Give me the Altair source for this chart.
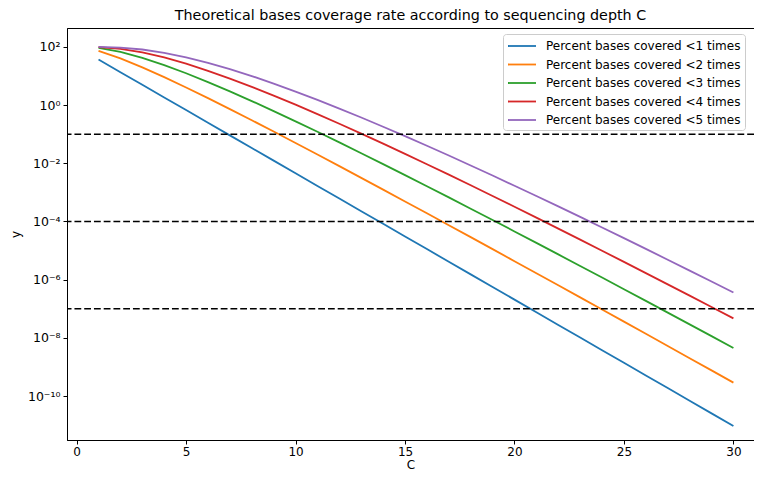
import altair as alt
import pandas as pd

C = list(range(1, 31))
names = ["Percent bases covered <1 times", "Percent bases covered <2 times",
         "Percent bases covered <3 times", "Percent bases covered <4 times",
         "Percent bases covered <5 times"]
colors = ["#1f77b4", "#ff7f0e", "#2ca02c", "#d62728", "#9467bd"]

p1 = [36.788, 13.534, 4.9787, 1.8316, 0.67379, 0.24788, 0.091188, 0.033546, 0.012341, 0.0045400,
      0.0016702, 6.1442e-4, 2.2603e-4, 8.3153e-5, 3.0590e-5, 1.1254e-5, 4.1399e-6, 1.5230e-6, 5.6028e-7, 2.0612e-7,
      7.5826e-8, 2.7895e-8, 1.0262e-8, 3.7751e-9, 1.3888e-9, 5.1091e-10, 1.8795e-10, 6.9144e-11, 2.5437e-11, 9.3576e-12]
p2 = [73.576, 40.601, 19.915, 9.1578, 4.0428, 1.7351, 0.72951, 0.30192, 0.12341, 0.049940,
      0.020042, 7.9875e-3, 3.1645e-3, 1.2473e-3, 4.8944e-4, 1.9131e-4, 7.4519e-5, 2.8937e-5, 1.1206e-5, 4.3284e-6,
      1.6682e-6, 6.4158e-7, 2.4629e-7, 9.4378e-8, 3.6109e-8, 1.3795e-8, 5.2627e-9, 2.0052e-9, 7.6310e-10, 2.9009e-10]
p3 = [91.970, 67.668, 42.319, 23.810, 12.465, 6.1969, 2.9636, 1.3754, 0.62322, 0.27694,
      0.12109, 0.052226, 0.022264, 9.3963e-3, 3.9308e-3, 1.6318e-3, 6.7274e-4, 2.7566e-4, 1.1234e-4, 4.5551e-5,
      1.8388e-5, 7.3921e-6, 2.9606e-6, 1.1816e-6, 4.7011e-7, 1.8648e-7, 7.3772e-8, 2.9110e-8, 1.1459e-8, 4.5010e-9]
p4 = [98.101, 85.712, 64.723, 43.347, 26.503, 15.120, 8.1765, 4.2380, 2.1226, 1.0336,
      0.49159, 0.22918, 0.10503, 0.047425, 0.021138, 9.3141e-3, 4.0627e-3, 1.7560e-3, 7.5283e-4, 3.2037e-4,
      1.3542e-4, 5.6896e-5, 2.3770e-5, 9.8795e-6, 4.0868e-6, 1.6831e-6, 6.9035e-7, 2.8209e-7, 1.1486e-7, 4.6610e-8]
p5 = [99.634, 94.735, 81.526, 62.884, 44.049, 28.506, 17.299, 9.9632, 5.4964, 2.9253,
      1.5105, 0.76004, 0.37402, 0.18053, 0.085664, 0.040044, 0.018470, 8.4176e-3, 3.7952e-3, 1.6945e-3,
      7.4987e-4, 3.2917e-4, 1.4342e-4, 6.2067e-5, 2.6691e-5, 1.1411e-5, 4.8523e-6, 2.0529e-6, 8.6448e-7, 3.6243e-7]
thresholds = [0.1, 1e-4, 1e-7]
y_ticks = [1e2, 1e0, 1e-2, 1e-4, 1e-6, 1e-8, 1e-10]
x_ticks = [0, 5, 10, 15, 20, 25, 30]

rows = []
for name, vals in zip(names, [p1, p2, p3, p4, p5]):
    for c, v in zip(C, vals):
        rows.append({"C": c, "y": v, "series": name})
df = pd.DataFrame(rows)
thr = pd.DataFrame({"t": thresholds})

FONT = "DejaVu Sans"
xscale = alt.Scale(domain=[-0.44, 30.94], nice=False, zero=False)
yscale = alt.Scale(type="log", domain=[10 ** -11.51, 10 ** 2.65], nice=False)

E = "round(log(datum.value)/LN10)"
label_expr = (f"{E}==2?'10²':{E}==0?'10⁰':{E}==-2?'10⁻²':{E}==-4?'10⁻⁴':"
              f"{E}==-6?'10⁻⁶':{E}==-8?'10⁻⁸':{E}==-10?'10⁻¹⁰':''")

lines = alt.Chart(df).mark_line(strokeWidth=1.8, clip=True).encode(
    x=alt.X("C:Q", scale=xscale, title="C",
            axis=alt.Axis(values=x_ticks, grid=False, tickColor="black", domainColor="black",
                          labelColor="black", titleColor="black", tickSize=4, domainWidth=1,
                          labelFont=FONT, labelFontSize=12, titleFont=FONT, titleFontSize=12,
                          titleFontWeight="normal", labelPadding=2, titlePadding=2)),
    y=alt.Y("y:Q", scale=yscale, title="y",
            axis=alt.Axis(values=y_ticks, labelExpr=label_expr, grid=False, tickColor="black",
                          domainColor="black", labelColor="black", titleColor="black", tickSize=4,
                          domainWidth=1, labelFont=FONT, labelFontSize=12.5, titleFont=FONT,
                          titleFontSize=12, titleFontWeight="normal", labelPadding=3, titlePadding=5)),
    color=alt.Color("series:N", scale=alt.Scale(domain=names, range=colors),
                    legend=alt.Legend(title=None, orient="none", legendX=436, legendY=6,
                                      symbolType="M-1,0H3", symbolSize=196, symbolStrokeWidth=1.8,
                                      labelFont=FONT, labelFontSize=12, labelColor="black",
                                      rowPadding=4.5, padding=4, strokeColor="#cccccc",
                                      fillColor="white", cornerRadius=3, labelOffset=23,
                                      labelLimit=400)),
)

rules = alt.Chart(thr).mark_rule(color="black", strokeWidth=1.6, strokeDash=[6.8, 2.95]).encode(
    y=alt.Y("t:Q", scale=yscale)
)

chart = (lines + rules).properties(
    width=687, height=412,
    title=alt.Title("Theoretical bases coverage rate according to sequencing depth C",
                    font=FONT, fontSize=14.3, fontWeight="normal", color="black", offset=5),
    autosize=alt.AutoSizeParams(type="none"),
    padding={"left": 59, "top": 20, "right": 0, "bottom": 34},
).configure_view(stroke="black", strokeWidth=1)

chart.save("out.html", embed_options={"renderer": "svg", "actions": False})
